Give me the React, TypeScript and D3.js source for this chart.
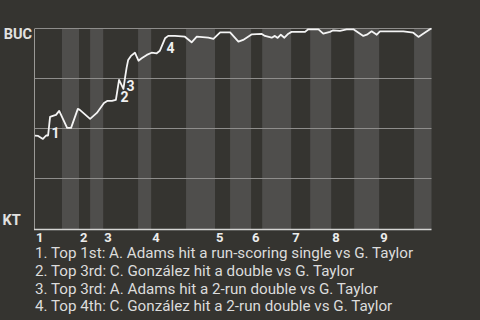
import React from "react";
import * as d3 from "d3";

// Half-inning start positions on a 0..100 game-progress scale (top 1st, bot 1st, top 2nd, ...)
const halfInningStarts = [0, 6.8, 11.1, 13.9, 17.2, 26.0, 29.3, 38.1, 45.4, 49.2, 54.5, 57.3, 64.6, 69.4, 74.7, 80.5, 86.8, 95.6, 100];
const inningLabels = ["1", "2", "3", "4", "5", "6", "7", "8", "9"];

// Win probability for BUC (%), by game progress
const progress = [0, 0.8, 2.0, 2.8, 3.3, 3.8, 4.5, 5.3, 6.1, 8.1, 9.1, 10.8, 11.3, 13.9, 15.6, 17.4, 18.2, 19.4, 20.4, 21.2, 22.3, 22.7, 23.1, 23.5, 24.2, 25.2, 26.1, 26.9, 28.2, 29.4, 30.7, 31.5, 32.8, 33.6, 35.3, 37.8, 39.5, 40.8, 43.7, 45.0, 46.7, 49.2, 51.3, 52.5, 54.7, 57.2, 58.0, 59.7, 60.5, 61.2, 62.0, 62.9, 63.9, 64.7, 68.1, 68.9, 71.5, 72.7, 74.4, 75.2, 76.9, 78.6, 80.3, 82.8, 83.7, 84.9, 86.2, 87.0, 92.9, 95.4, 96.7, 97.9, 99.6, 100];
const winProb = [46.4, 46.3, 44.8, 46.5, 46.5, 55.8, 56.3, 56.8, 58.8, 50.3, 50.3, 59.8, 59.3, 54.8, 57.8, 62.8, 63.8, 63.8, 64.3, 74.3, 69.8, 75.3, 80.3, 84.3, 86.3, 87.9, 83.9, 85.1, 86.8, 87.9, 87.6, 88.9, 95.1, 96.3, 96.3, 95.9, 93.1, 95.9, 95.4, 94.8, 98.1, 98.1, 93.4, 94.3, 97.1, 97.3, 96.3, 95.4, 96.3, 95.3, 96.9, 95.4, 97.4, 98.3, 98.3, 99.6, 99.6, 97.4, 98.3, 99.1, 98.8, 99.6, 99.6, 96.3, 96.9, 98.6, 96.9, 98.6, 98.6, 97.9, 95.8, 97.4, 99.6, 100];

// Key events: index of the point after the play
const eventIndex = [5, 19, 21, 32];
const eventLabels = ["1", "2", "3", "4"];
const eventTexts = [
  "1. Top 1st: A. Adams hit a run-scoring single vs G. Taylor",
  "2. Top 3rd: C. González hit a double vs G. Taylor",
  "3. Top 3rd: A. Adams hit a 2-run double vs G. Taylor",
  "4. Top 4th: C. González hit a 2-run double vs G. Taylor",
];
const teamTop = "BUC";
const teamBottom = "KT";
const gridValues = [100, 75, 50, 25];

const W = 480;
const H = 320;
const left = 35;
const right = 431.5;
const top = 28.5;
const bottom = 228.5;

export default function App() {
  const x = d3.scaleLinear().domain([0, 100]).range([left, right]);
  const y = d3.scaleLinear().domain([0, 100]).range([bottom, top]);
  const pts: [number, number][] = progress.map((p, i) => [p, winProb[i]]);
  const line = d3
    .line<[number, number]>()
    .x((d) => x(d[0]))
    .y((d) => y(d[1]));

  const stripes = [];
  for (let i = 1; i < halfInningStarts.length - 1; i += 2) {
    stripes.push([halfInningStarts[i], halfInningStarts[i + 1]]);
  }

  return (
    <svg
      width={W}
      height={H}
      style={{ position: "absolute", left: 0, top: 0, display: "block" }}
      fontFamily="Roboto, sans-serif"
    >
      <rect x={0} y={0} width={W} height={H} fill="#353430" />
      {stripes.map((s, i) => (
        <rect key={i} x={x(s[0])} y={top} width={x(s[1]) - x(s[0])} height={bottom - top + 1} fill="#4f4e4c" />
      ))}
      {gridValues.map((g) => (
        <line key={g} x1={left} x2={right} y1={y(g)} y2={y(g)} stroke="#8e8d8b" strokeWidth={1} />
      ))}
      <line x1={left - 0.5} x2={left - 0.5} y1={top} y2={bottom + 1} stroke="#9a9996" strokeWidth={1} />
      <line x1={left - 1} x2={right} y1={bottom + 1} y2={bottom + 1} stroke="#d4d4d2" strokeWidth={1.5} />
      <path d={line(pts) || ""} fill="none" stroke="#f4f4f4" strokeWidth={1.8} strokeLinejoin="round" />
      {eventIndex.map((idx, i) => (
        <text
          key={i}
          x={x(progress[idx]) + 1.5}
          y={y(winProb[idx - 1]) + 2}
          fill="#f0f0f0"
          fontSize={14}
          fontWeight="bold"
        >
          {eventLabels[i]}
        </text>
      ))}
      <text x={32} y={39} textAnchor="end" fill="#e2e2e0" fontSize={14.5} fontWeight="bold">
        {teamTop}
      </text>
      <text x={2.5} y={225} fill="#e2e2e0" fontSize={14.5} fontWeight="bold">
        {teamBottom}
      </text>
      {inningLabels.map((l, i) => (
        <text key={l} x={x(halfInningStarts[i * 2]) + 1} y={242} fill="#ececec" fontSize={13} fontWeight="bold">
          {l}
        </text>
      ))}
      {eventTexts.map((t, i) => (
        <text key={i} x={35} y={258 + i * 17.8} fill="#dcdcdc" fontSize={15.2}>
          {t}
        </text>
      ))}
    </svg>
  );
}
